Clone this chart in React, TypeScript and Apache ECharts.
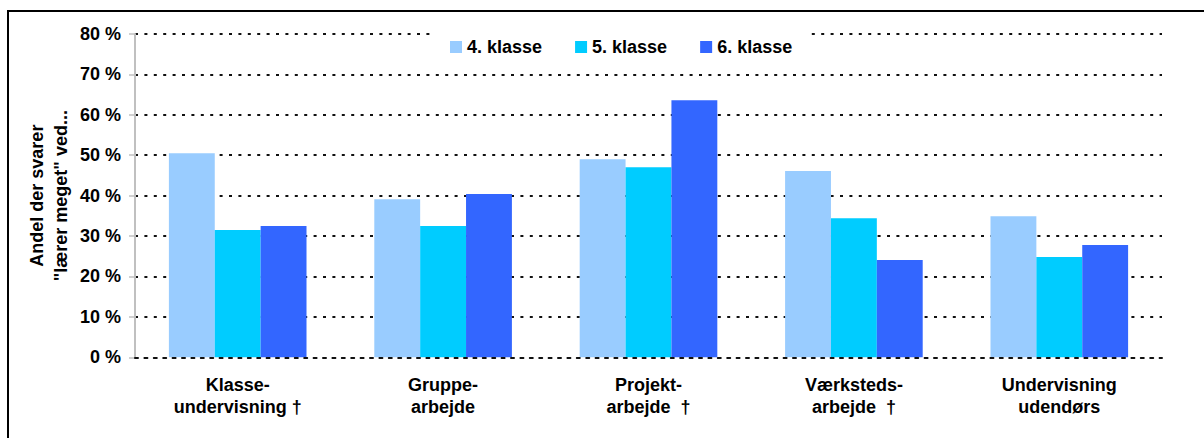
import React, { useEffect, useRef } from "react";
import * as echarts from "echarts";

const categories = [
  "Klasse-\nundervisning †",
  "Gruppe-\narbejde",
  "Projekt-\narbejde  †",
  "Værksteds-\narbejde  †",
  "Undervisning\nudendørs",
];
const seriesNames = ["4. klasse", "5. klasse", "6. klasse"];
const klasse4 = [50.5, 39.1, 49.0, 46.1, 34.9];
const klasse5 = [31.5, 32.5, 47.0, 34.4, 24.8];
const klasse6 = [32.5, 40.4, 63.6, 24.1, 27.8];
const colors = ["#99CCFF", "#00CCFF", "#3366FF"];
const yTicks = { min: 0, max: 80, interval: 10 };
const yAxisName = "Andel der svarer\n\"lærer meget\" ved...";

const FONT = 'Arial, "Liberation Sans", sans-serif';

export default function App() {
  const ref = useRef<HTMLDivElement>(null);
  useEffect(() => {
    if (!ref.current) return;
    const chart = echarts.init(ref.current, undefined, { renderer: "svg" });
    const dotted = { color: "#111", width: 2, type: [3, 6.4] as number[] };
    const values = [klasse4, klasse5, klasse6];
    chart.setOption({
      animation: false,
      backgroundColor: "#fff",
      textStyle: { fontFamily: FONT },
      grid: { left: 135, right: 42, top: 34, bottom: 80.7 },
      legend: {
        data: seriesNames,
        top: 32,
        left: 432,
        padding: [6, 18, 6, 18],
        backgroundColor: "#fff",
        itemWidth: 12,
        itemHeight: 12,
        itemGap: 33,
        icon: "rect",
        textStyle: { fontFamily: FONT, fontWeight: "bold", fontSize: 18, color: "#000" },
        z: 10,
      },
      xAxis: {
        type: "category",
        data: categories,
        z: 3,
        axisLine: { show: true, lineStyle: dotted },
        axisTick: { show: false },
        axisLabel: {
          interval: 0,
          margin: 17,
          fontFamily: FONT,
          fontWeight: "bold",
          fontSize: 18,
          lineHeight: 22,
          color: "#000",
        },
      },
      yAxis: {
        type: "value",
        min: yTicks.min,
        max: yTicks.max,
        interval: yTicks.interval,
        name: yAxisName,
        nameLocation: "middle",
        nameGap: 62,
        nameMoveOverlap: false,
        nameTextStyle: {
          fontFamily: FONT,
          fontWeight: "bold",
          fontSize: 18,
          lineHeight: 24,
          color: "#000",
          align: "center",
        },
        axisLine: { show: true, lineStyle: { color: "#c0c0c0", width: 2 } },
        axisTick: { show: true, length: 6, lineStyle: { color: "#c0c0c0", width: 1.5 } },
        axisLabel: {
          formatter: "{value} %",
          margin: 14,
          fontFamily: FONT,
          fontWeight: "bold",
          fontSize: 18,
          color: "#000",
        },
        splitLine: { show: true, lineStyle: dotted },
      },
      series: seriesNames.map((name, i) => ({
        name,
        type: "bar",
        data: values[i],
        barGap: "0%",
        barCategoryGap: "33%",
        itemStyle: { color: colors[i] },
      })),
      graphic: [
        {
          type: "rect",
          silent: true,
          z: 100,
          shape: { x: 8, y: 11, width: 1400, height: 600 },
          style: { fill: "none", stroke: "#000", lineWidth: 2 },
        },
      ],
    });
    return () => chart.dispose();
  }, []);
  return (
    <div
      ref={ref}
      style={{ position: "absolute", left: 0, top: 0, width: 1204, height: 438 }}
    />
  );
}
